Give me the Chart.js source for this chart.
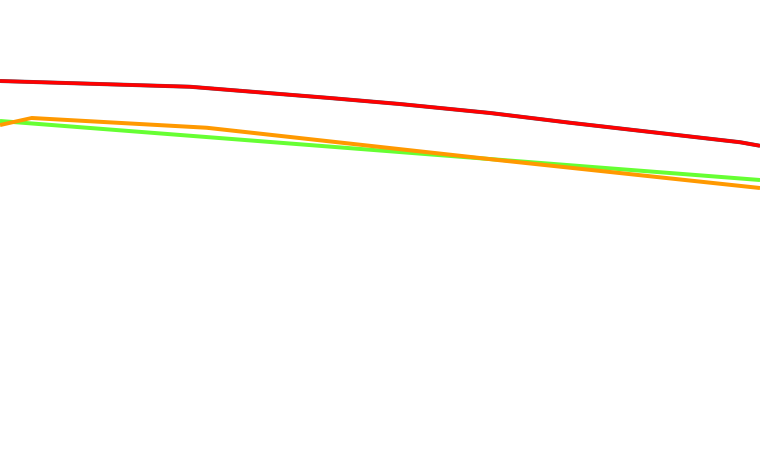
<!DOCTYPE html>
<html>
<head>
<meta charset="utf-8">
<script src="https://cdn.jsdelivr.net/npm/chart.js@4"></script>
<style>
  html, body { margin: 0; padding: 0; background: #fff; }
  #chart { display: block; }
</style>
</head>
<body>
<canvas id="chart" width="760" height="450"></canvas>
<script>
// series values (x, y)
var redX = [0, 25, 43.4, 52.6, 64.5, 75, 97.4, 100];
var redY = [82, 80.7, 78.2, 76.9, 74.9, 72.7, 68.4, 67.6];
var orangeX = [0, 4.2, 27.2, 65.8, 100];
var orangeY = [72.2, 73.8, 71.6, 64.4, 58.2];
var greenX = [0, 100];
var greenY = [73.1, 60];

function points(xs, ys) {
  return xs.map(function(x, i) { return {x: x, y: ys[i]}; });
}

function series(xs, ys, color, width) {
  return {
    data: points(xs, ys),
    borderColor: color,
    borderWidth: width,
    pointRadius: 0,
    tension: 0,
    fill: false
  };
}

// first dataset is drawn on top
new Chart(document.getElementById('chart'), {
  type: 'line',
  data: {
    datasets: [
      series(redX, redY, '#ff0000', 3.5),
      series(redX, redY, '#555566', 4),
      series(orangeX, orangeY, '#ff9900', 4),
      series(greenX, greenY, '#66ff33', 4)
    ]
  },
  options: {
    responsive: false,
    animation: false,
    layout: {padding: 0},
    plugins: {legend: {display: false}, tooltip: {enabled: false}},
    scales: {
      x: {type: 'linear', min: 0, max: 100, display: false},
      y: {min: 0, max: 100, display: false}
    }
  }
});
</script>
</body>
</html>
